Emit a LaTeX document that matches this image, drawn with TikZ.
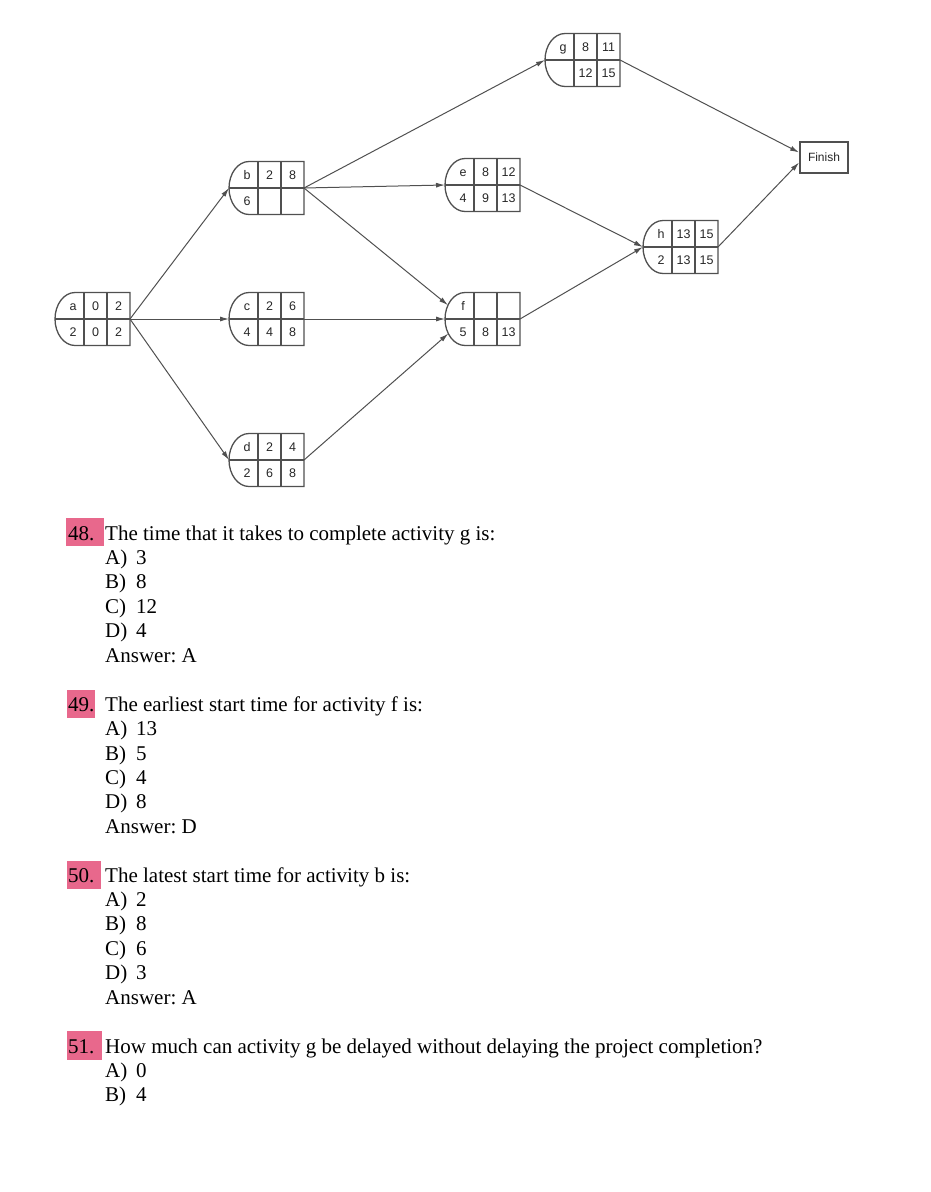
\documentclass[tikz,border=0pt]{standalone}
\usepackage{fontspec}
\setmainfont{Liberation Serif}
\newfontfamily\netfont{Liberation Sans}
\usetikzlibrary{arrows.meta,shapes.geometric,calc}
\frenchspacing

\definecolor{netgray}{RGB}{80,80,80}
\definecolor{marker}{RGB}{232,104,140}

\tikzset{
  box/.style={draw=netgray, line width=1.3pt},
  inport/.style={ellipse, minimum width=40pt, minimum height=53pt, inner sep=0pt, outer sep=0pt},
  cell/.style={font=\netfont\fontsize{12.5}{14}\selectfont, text=black!85, inner sep=0pt,
               text height=8.8pt, text depth=0pt},
  link/.style={draw=netgray, line width=1pt, -{Latex[length=9pt,width=5pt]}},
  finbox/.style={draw=netgray, line width=1.8pt, minimum width=48pt, minimum height=31pt,
                 inner sep=0pt, font=\netfont\fontsize{12}{14}\selectfont, text=black!85},
  qtext/.style={anchor=base west, inner sep=0pt, font=\fontsize{21}{24}\selectfont},
}

% activity box: name, x, y (left tip on the middle line), then the five numbers
\newcommand{\activity}[8]{%
  \begin{scope}[shift={(#2,#3)}]
    \node[inport] (#1) at (20,0) {};
    \coordinate (#1-out) at (75,0);
    \draw[box] (20,-26.5) -- (75,-26.5) -- (75,26.5) -- (20,26.5)
      arc[start angle=90, end angle=270, x radius=20, y radius=26.5];
    \draw[box] (0,0) -- (75,0) (29,-26.5) -- (29,26.5) (52,-26.5) -- (52,26.5);
    \node[cell] (#1-n) at (18,-13) {#1};
    \node[cell] (#1-es) at (40.5,-13) {#4};
    \node[cell] (#1-ef) at (63.5,-13) {#5};
    \node[cell] (#1-t) at (18,13) {#6};
    \node[cell] (#1-ls) at (40.5,13) {#7};
    \node[cell] (#1-lf) at (63.5,13) {#8};
  \end{scope}}

\begin{document}
\begin{tikzpicture}[x=1pt, y=-1pt]
  \useasboundingbox (0,0) rectangle (930,1192);

  % Netzplan
  \activity{a}{55}{319}{0}{2}{2}{0}{2}
  \activity{b}{229}{188}{2}{8}{6}{}{}
  \activity{c}{229}{319}{2}{6}{4}{4}{8}
  \activity{d}{229}{460}{2}{4}{2}{6}{8}
  \activity{e}{445}{185}{8}{12}{4}{9}{13}
  \activity{f}{445}{319}{}{}{5}{8}{13}
  \activity{g}{545}{60}{8}{11}{}{12}{15}
  \activity{h}{643}{247}{13}{15}{2}{13}{15}
  \node[finbox] (fin) at (824,157.5) {Finish};

  % Pfeile
  \draw[link] (a-out) -- (b.west);
  \draw[link] (a-out) -- (c.west);
  \draw[link] (a-out) -- (d.west);
  \draw[link] (b-out) -- (g.west);
  \draw[link] (b-out) -- (e.west);
  \draw[link] (b-out) -- (f);
  \draw[link] (c-out) -- (f.west);
  \draw[link] (d-out) -- (f);
  \draw[link] (e-out) -- (h.west);
  \draw[link] (f-out) -- (h.west);
  \draw[link] (g-out) -- ($(fin.west)+(0,-5)$);
  \draw[link] (h-out) -- ($(fin.west)+(0,5)$);

  % Frage 48
  \fill[marker] (66,518) rectangle (104,546);
  \node[qtext] (q48) at (68,540) {48.};
  \node[qtext] (q48-text) at (105,540) {The time that it takes to complete activity g is:};
  \foreach \opt/\val [count=\i] in {A/3,B/8,C/12,D/4} {
    \node[qtext] (q48-\opt) at (105,540+24.4*\i) {\opt)};
    \node[qtext] (q48-\opt-val) at (136,540+24.4*\i) {\val};
  }
  \node[qtext] (q48-ans) at (105,662) {Answer: A};

  % Frage 49
  \fill[marker] (67,690) rectangle (95,718);
  \node[qtext] (q49) at (68,711.2) {49.};
  \node[qtext] (q49-text) at (105,711.2) {The earliest start time for activity f is:};
  \foreach \opt/\val [count=\i] in {A/13,B/5,C/4,D/8} {
    \node[qtext] (q49-\opt) at (105,711.2+24.4*\i) {\opt)};
    \node[qtext] (q49-\opt-val) at (136,711.2+24.4*\i) {\val};
  }
  \node[qtext] (q49-ans) at (105,833.2) {Answer: D};

  % Frage 50
  \fill[marker] (67,861) rectangle (101,889);
  \node[qtext] (q50) at (68,882) {50.};
  \node[qtext] (q50-text) at (105,882) {The latest start time for activity b is:};
  \foreach \opt/\val [count=\i] in {A/2,B/8,C/6,D/3} {
    \node[qtext] (q50-\opt) at (105,882+24.4*\i) {\opt)};
    \node[qtext] (q50-\opt-val) at (136,882+24.4*\i) {\val};
  }
  \node[qtext] (q50-ans) at (105,1004) {Answer: A};

  % Frage 51
  \fill[marker] (67,1031) rectangle (102,1060);
  \node[qtext] (q51) at (68,1053) {51.};
  \node[qtext] (q51-text) at (105,1053) {How much can activity g be delayed without delaying the project completion?};
  \foreach \opt/\val [count=\i] in {A/0,B/4} {
    \node[qtext] (q51-\opt) at (105,1053+24.4*\i) {\opt)};
    \node[qtext] (q51-\opt-val) at (136,1053+24.4*\i) {\val};
  }
\end{tikzpicture}
\end{document}
